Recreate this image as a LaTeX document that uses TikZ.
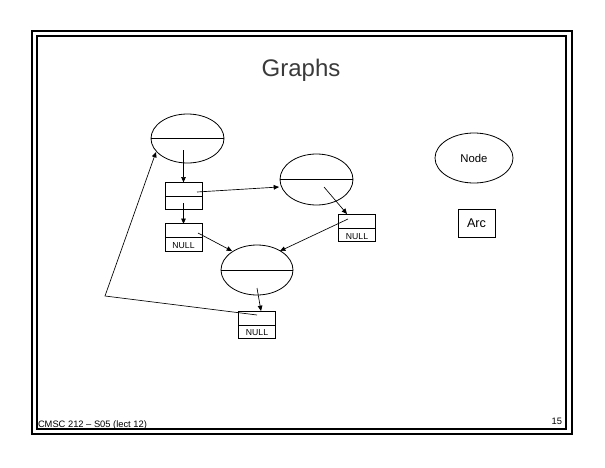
\documentclass[tikz,border=0pt]{standalone}
\usepackage{fontspec}
\setmainfont{Liberation Sans}
\usetikzlibrary{arrows.meta,shapes.geometric}
\definecolor{titlegray}{HTML}{3A3A3A}
\begin{document}
\begin{tikzpicture}[x=0.75pt,y=-0.75pt,
  every node/.style={inner sep=0pt,outer sep=0pt},
  graphnode/.style={draw,ellipse,line width=0.6pt},
  listbox/.style={draw,rectangle,line width=0.6pt,minimum width=27.75pt,minimum height=20.5pt},
  divider/.style={line width=0.6pt},
  link/.style={line width=0.5pt,-{Triangle[length=4pt,width=3.5pt]}},
  frameline/.style={line width=1.3pt},
  nulltext/.style={font=\fontsize{6.5}{7}\selectfont},
  smalltext/.style={font=\fontsize{7}{8}\selectfont}]
\useasboundingbox (0,0) rectangle (605,467);
\draw[frameline] (32,31) rectangle (572,434);
\draw[frameline] (37,36) rectangle (566,429);

\node[font=\fontsize{18}{20}\selectfont,text=titlegray] (title) at (301,70.5) {Graphs};

% graph nodes
\node[graphnode,minimum width=54.75pt,minimum height=36.75pt] (e1) at (187.5,138.5) {};
\draw[divider] (e1.west) -- (e1.east);
\node[graphnode,minimum width=54.75pt,minimum height=38.25pt] (e2) at (316.5,179.5) {};
\draw[divider] (e2.west) -- (e2.east);
\node[graphnode,minimum width=54pt,minimum height=37.5pt] (e3) at (257,270) {};
\draw[divider] (e3.west) -- (e3.east);

% list boxes
\node[listbox] (b1) at (183.5,196) {};
\draw[divider] (b1.west) -- (b1.east);
\node[listbox] (n1) at (183.5,237.5) {};
\draw[divider] (n1.west) -- (n1.east);
\node[nulltext] (n1t) at (183.5,245.5) {NULL};
\node[listbox] (n2) at (357,228) {};
\draw[divider] (n2.west) -- (n2.east);
\node[nulltext] (n2t) at (357,236.5) {NULL};
\node[listbox] (n3) at (257,325) {};
\draw[divider] (n3.west) -- (n3.east);
\node[nulltext] (n3t) at (257,333) {NULL};

% connectors
\coordinate (p1) at (183.5,150);
\draw[link] (p1) -- (b1.north);
\coordinate (p2) at (183.5,203);
\draw[link] (p2) -- (n1.north);
\coordinate (p3) at (197,192);
\coordinate (q3) at (279,187);
\draw[link] (p3) -- (q3);
\coordinate (p4) at (324,187);
\coordinate (q4) at (347,214);
\draw[link] (p4) -- (q4);
\coordinate (p5) at (348,219);
\coordinate (q5) at (280,251);
\draw[link] (p5) -- (q5);
\coordinate (p6) at (198,233);
\coordinate (q6) at (232,251);
\draw[link] (p6) -- (q6);
\coordinate (p7) at (257,288);
\coordinate (q7) at (261,311);
\draw[link] (p7) -- (q7);
\coordinate (p8) at (257,315);
\coordinate (c8) at (105,296);
\coordinate (q8) at (156,152);
\draw[link] (p8) -- (c8) -- (q8);

% legend
\node[graphnode,minimum width=58.5pt,minimum height=37.5pt,font=\fontsize{8.5}{10}\selectfont] (legnode) at (474,158) {Node};
\node[draw,line width=0.6pt,minimum width=27.75pt,minimum height=21pt,font=\fontsize{9.5}{11}\selectfont] (legarc) at (476.5,223) {Arc};

% footer
\node[smalltext,anchor=base west] (foot) at (38,427.5) {CMSC 212 -- S05 (lect 12)};
\node[smalltext,anchor=base east] (page) at (562,424) {15};
\end{tikzpicture}
\end{document}
